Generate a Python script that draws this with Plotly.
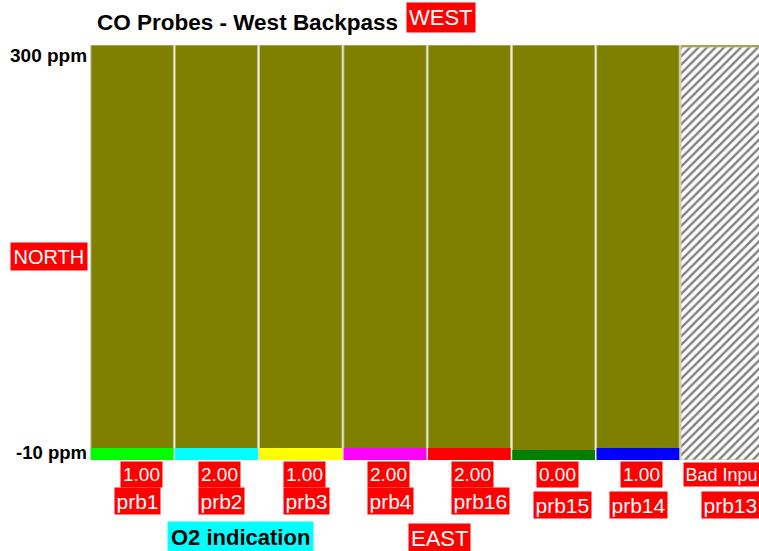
import plotly.graph_objects as go

# ---- data ----
probes = ["prb1", "prb2", "prb3", "prb4", "prb16", "prb15", "prb14", "prb13"]
co_ppm = [-1.0, -1.0, -1.0, -1.0, -1.0, -2.5, -1.0, None]   # CO reading per probe
o2_text = ["1.00", "2.00", "1.00", "2.00", "2.00", "0.00", "1.00", "Bad Inpu"]
bar_colors = ["#00ff00", "#00ffff", "#ffff00", "#ff00ff", "#ff0000", "#008000", "#0000ff", None]
bad_probe_level = [None, None, None, None, None, None, None, 298.5]
y_min, y_max = -10, 300
y_tick_text = ["300 ppm", "-10 ppm"]

OLIVE = "#808000"
BORDER = "#c8c8a0"
FONT = "Liberation Sans, Arial, sans-serif"

fig = go.Figure()

# background (olive) columns spanning full scale
fig.add_trace(go.Bar(
    x=probes, y=[y_max - y_min] * len(probes), base=y_min,
    marker=dict(color=OLIVE, line=dict(color=BORDER, width=1)),
    hoverinfo="skip", showlegend=False))

# coloured value bars
vx = [p for p, v in zip(probes, co_ppm) if v is not None]
vy = [v - y_min for v in co_ppm if v is not None]
vc = [c for c, v in zip(bar_colors, co_ppm) if v is not None]
fig.add_trace(go.Bar(
    x=vx, y=vy, base=y_min,
    marker=dict(color=vc, line=dict(width=0)),
    showlegend=False))

# bad input probe: hatched
bx = [p for p, v in zip(probes, bad_probe_level) if v is not None]
by = [v - y_min for v in bad_probe_level if v is not None]
fig.add_trace(go.Bar(
    x=bx, y=by, base=y_min,
    marker=dict(color="white", line=dict(color=BORDER, width=1),
                pattern=dict(shape="/", fgcolor="black", bgcolor="white",
                             size=6, solidity=0.4)),
    showlegend=False))

ann = []
red_box = dict(bgcolor="#ff0000", showarrow=False)

# value and probe labels
val_shift = [-12, -18, -18, -18, -18, -18, -18, -39]
name_shift = [-18, -18, -18, -18, -18, -21, -29, -21]
name_y = [-41, -41, -41, -41, -41, -45, -45, -45]
for i, p in enumerate(probes):
    ann.append(dict(x=p, xref="x", y=0, yref="paper", xanchor="left", yanchor="middle",
                    xshift=val_shift[i], yshift=-14, text=o2_text[i], borderpad=2 if i < 7 else 1.5,
                    font=dict(family=FONT, size=19 if i < 7 else 18, color="white"), **red_box))
    ann.append(dict(x=p, xref="x", y=0, yref="paper", xanchor="left", yanchor="middle",
                    xshift=name_shift[i], yshift=name_y[i], text=p, borderpad=1.5,
                    font=dict(family=FONT, size=21, color="white"), **red_box))

# y-axis labels
ann.append(dict(x=0, xref="paper", y=1, yref="paper", xanchor="right", yanchor="middle",
                xshift=-1, yshift=-10, text="<b>%s</b>" % y_tick_text[0], showarrow=False,
                font=dict(family=FONT, size=19, color="black")))
ann.append(dict(x=0, xref="paper", y=0, yref="paper", xanchor="right", yanchor="middle",
                xshift=-1, yshift=8, text="<b>%s</b>" % y_tick_text[1], showarrow=False,
                font=dict(family=FONT, size=18.5, color="black")))

# title and direction labels
ann.append(dict(x=0, xref="paper", y=1, yref="paper", xanchor="left", yanchor="middle",
                xshift=5, yshift=23, text="<b>CO Probes - West Backpass</b>", showarrow=False,
                font=dict(family=FONT, size=22.5, color="black")))
ann.append(dict(x=0, xref="paper", y=1, yref="paper", xanchor="left", yanchor="middle",
                xshift=316, yshift=27.5, text="WEST", borderpad=2,
                font=dict(family=FONT, size=22, color="white"), **red_box))
ann.append(dict(x=0, xref="paper", y=0.49, yref="paper", xanchor="right", yanchor="middle",
                xshift=-2, text="NORTH", borderpad=2.5,
                font=dict(family=FONT, size=20, color="white"), **red_box))
ann.append(dict(x=0, xref="paper", y=0, yref="paper", xanchor="left", yanchor="middle",
                xshift=77, yshift=-77.5, text="<b>O2 indication</b>", showarrow=False,
                bgcolor="#00ffff", borderpad=3,
                font=dict(family=FONT, size=22, color="black")))
ann.append(dict(x=0, xref="paper", y=0, yref="paper", xanchor="left", yanchor="middle",
                xshift=318, yshift=-78.5, text="EAST", borderpad=2,
                font=dict(family=FONT, size=22, color="white"), **red_box))

fig.update_layout(
    width=759, height=551,
    margin=dict(l=90, r=0, t=45, b=91, autoexpand=False),
    paper_bgcolor="white", plot_bgcolor="white",
    barmode="overlay", bargap=0.02,
    xaxis=dict(range=[-0.5, 7.436], showticklabels=False, showgrid=False,
               zeroline=False, showline=False, fixedrange=True),
    yaxis=dict(range=[y_min, y_max], showticklabels=False, showgrid=False,
               zeroline=False, showline=False, fixedrange=True),
    annotations=ann,
    font=dict(family=FONT),
)

fig.write_html("out.html", config={"displayModeBar": False},
               post_script="document.body.style.margin='0';document.body.style.overflow='hidden';")
